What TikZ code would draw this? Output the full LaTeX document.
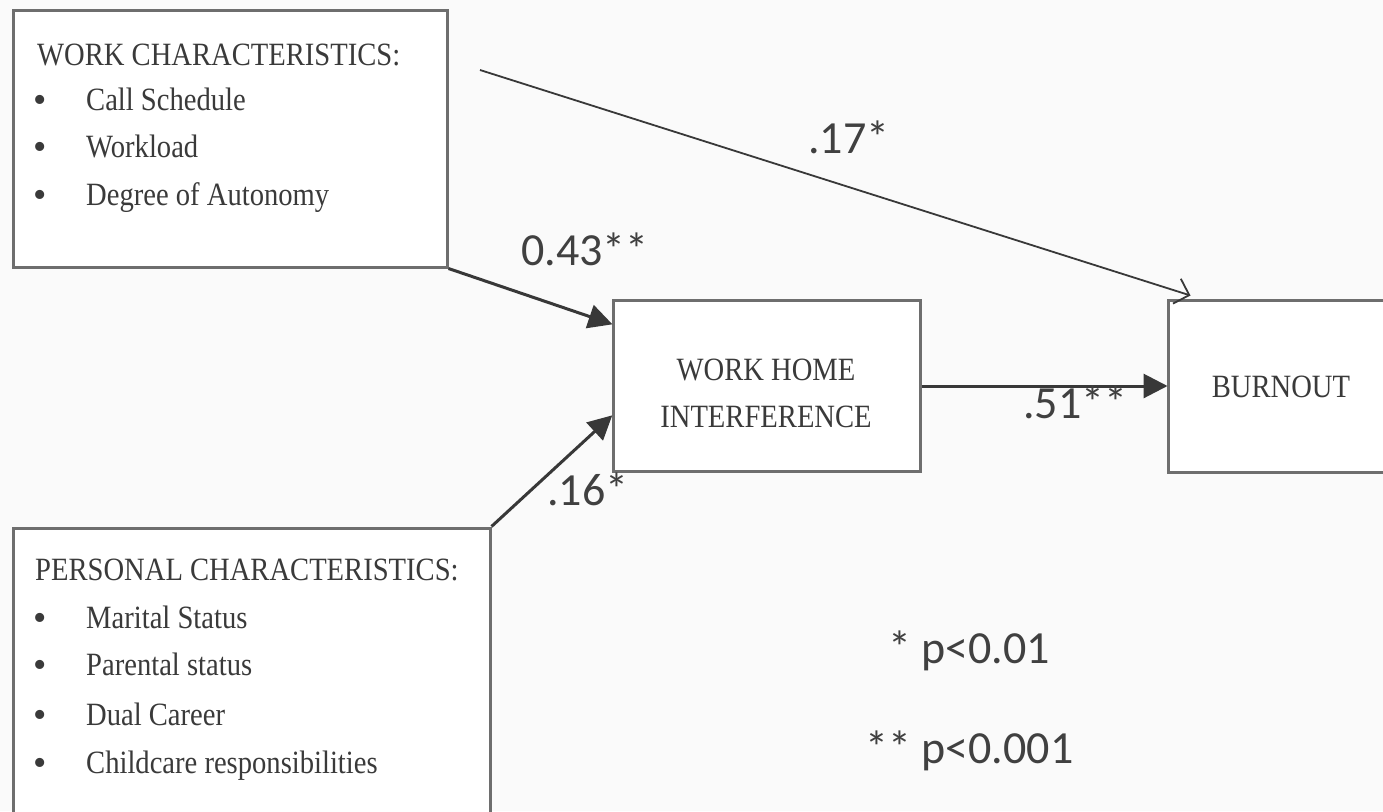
\documentclass[tikz,border=0pt]{standalone}
\usepackage{fontspec}
\usetikzlibrary{arrows.meta,calc}
\newfontfamily\boxfont[FakeStretch=0.88]{Liberation Serif}
\newfontfamily\bulfont{Liberation Serif}
\newfontfamily\labfont{Carlito}
\definecolor{boxline}{HTML}{6E6E6E}
\definecolor{boxtext}{HTML}{3A3A3A}
\definecolor{arrowcol}{HTML}{383838}
\definecolor{labcol}{HTML}{404040}
\definecolor{bgcol}{HTML}{FAFAFA}
\tikzset{
  box/.style={draw=boxline, line width=3pt, fill=white, rectangle, inner sep=0pt},
  btxt/.style={font=\boxfont\fontsize{32.5}{34}\selectfont, text=boxtext, inner sep=0pt, anchor=base west},
  ctxt/.style={font=\boxfont\fontsize{32.5}{34}\selectfont, text=boxtext, inner sep=0pt, anchor=base},
  bul/.style={font=\bulfont\fontsize{38}{40}\selectfont, text=boxtext, inner sep=0pt, anchor=base},
  lab/.style={font=\labfont\fontsize{46}{48}\selectfont, text=labcol, inner sep=0pt, anchor=base west},
  thickarrow/.style={draw=arrowcol, line width=3pt, -{Triangle[length=24pt,width=24pt]}, shorten >=-1pt},
  thinarrow/.style={draw=arrowcol, line width=1.8pt, -{Straight Barb[length=13pt,width=26pt,line width=1.8pt]}}
}
\begin{document}
\begin{tikzpicture}[x=1pt,y=-1pt]
\useasboundingbox (0,0) rectangle (1383,811);
\clip (0,0) rectangle (1383,811);
\fill[bgcol] (0,0) rectangle (1383,811);

% boxes
\node[box, minimum width=434pt, minimum height=257pt] (work) at (230,138.5) {};
\node[box, minimum width=477pt, minimum height=302pt] (pers) at (251.5,679) {};
\node[box, minimum width=307pt, minimum height=171pt] (whi) at (766.5,386) {};
\node[box, minimum width=232pt, minimum height=172pt] (burn) at (1284,386) {};

% work characteristics text
\node[btxt] (wt) at (37,65) {WORK CHARACTERISTICS:};
\node[bul] (wb1) at (40,112) {\textbullet};
\node[btxt] (w1) at (86,110) {Call Schedule};
\node[bul] (wb2) at (40,159) {\textbullet};
\node[btxt] (w2) at (86,157) {Workload};
\node[bul] (wb3) at (40,207) {\textbullet};
\node[btxt] (w3) at (86,205) {Degree of Autonomy};

% personal characteristics text
\node[btxt] (pt) at (35,580) {PERSONAL CHARACTERISTICS:};
\node[bul] (pb1) at (40,630) {\textbullet};
\node[btxt] (p1) at (86,628) {Marital Status};
\node[bul] (pb2) at (40,677) {\textbullet};
\node[btxt] (p2) at (86,675) {Parental status};
\node[bul] (pb3) at (40,727) {\textbullet};
\node[btxt] (p3) at (86,725) {Dual Career};
\node[bul] (pb4) at (40,775) {\textbullet};
\node[btxt] (p4) at (86,773) {Childcare responsibilities};

% center texts
\node[ctxt] (whi1) at (766,380) {WORK HOME};
\node[ctxt] (whi2) at (766,427) {INTERFERENCE};
\node[ctxt] (bt) at (1281,397) {BURNOUT};

% connectors
\coordinate (s17) at (480,70);
\draw[thinarrow] (s17) -- ($(burn.north west)+(24,-3)$);
\draw[thickarrow] (work.south east) -- ($(whi.north west)+(0,25)$);
\draw[thickarrow] (pers.north east) -- ($(whi.north west)+(0,117)$);
\draw[thickarrow] (whi.east) -- (burn.west);

% labels
\node[lab] (l17) at (808,153) {.17*};
\node[lab] (l43) at (521,265) {0.43**};
\node[lab] (l51) at (1023,418) {.51**};
\node[lab] (l16) at (547,505) {.16*};
\node[lab] (n1) at (888,663) {* p<0.01};
\node[lab] (n2) at (865,763) {** p<0.001};
\end{tikzpicture}
\end{document}
